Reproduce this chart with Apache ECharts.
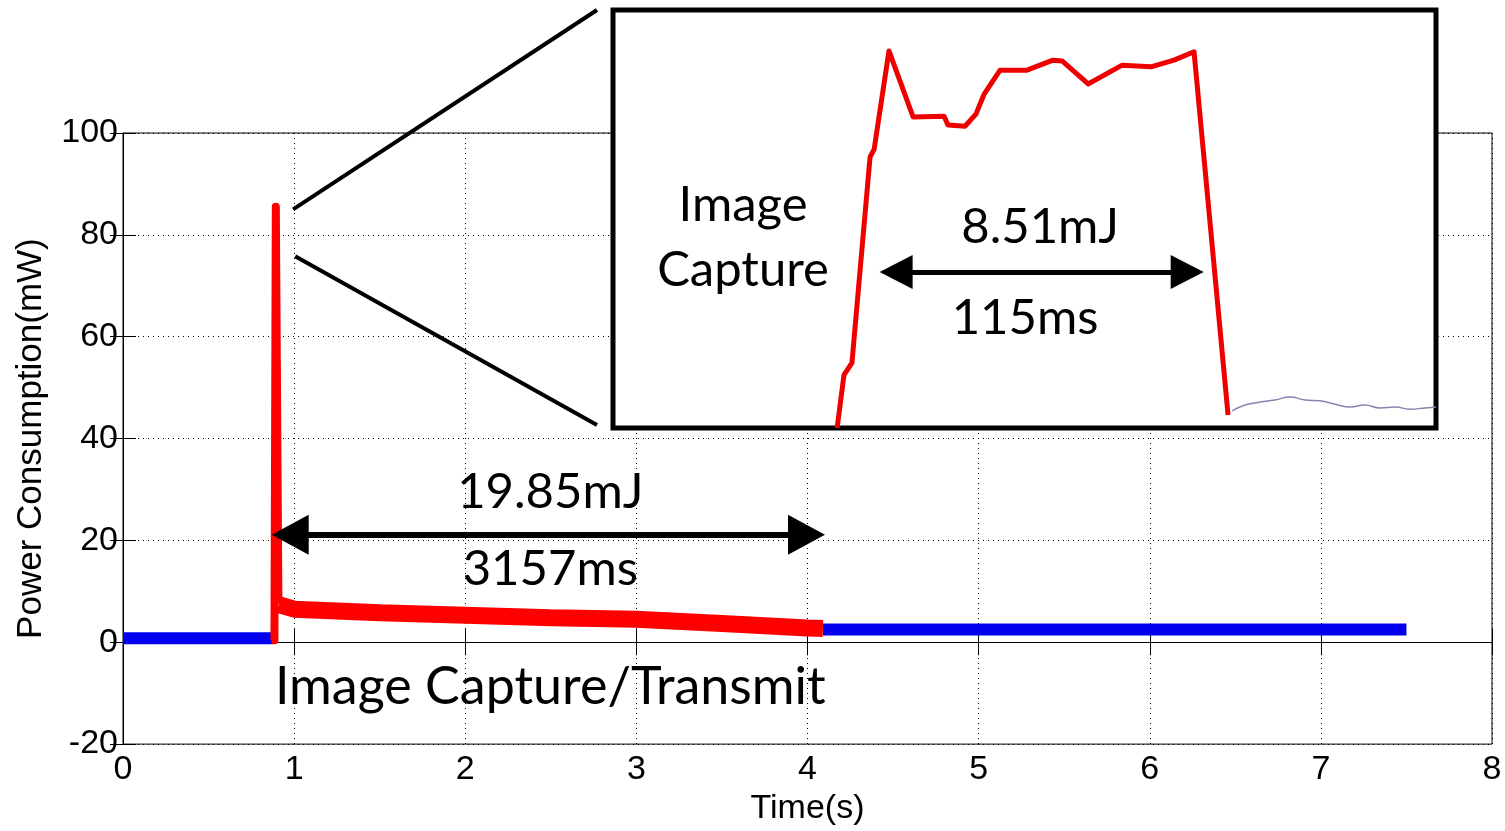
<!DOCTYPE html>
<html><head><meta charset="utf-8">
<script src="https://cdn.jsdelivr.net/npm/echarts/dist/echarts.min.js"></script>
<style>html,body{margin:0;padding:0;background:#fff}#c{width:1505px;height:831px}</style>
</head><body><div id="c"></div>
<script>
// ---- data (time in s, power in mW) ----
const idleBefore = [[0,0.8],[0.3,0.8],[0.6,0.8],[0.87,0.8]];
const captureSpike = [[0.87,0.4],[0.885,0.4],[0.893,85.5],[0.902,85.5],[0.908,9],[0.915,7.6]];
const transmit = [[0.91,7.4],[1.0,6.5],[1.5,5.8],[2.0,5.3],[2.5,4.8],[3.0,4.5],[3.5,3.7],[4.0,2.8],[4.09,2.7]];
const idleAfter = [[4.09,2.5],[5,2.5],[6,2.5],[7,2.5],[7.5,2.5]];
// ---- inset (zoom of capture spike): time in ms within window, relative power scale ----
const insetCapture = [[81.7,0],[84.2,12.7],[87.1,15.6],[93.7,64.8],[95.2,66.7],[100.6,90.2],[109.4,74.4],[120.7,74.6],[122.1,72.5],[128.3,72.2],[132.3,75.1],[135.3,79.9],[141.1,85.6],[150.9,85.6],[160.4,88.0],[163.7,87.8],[173.2,82.3],[185.6,86.8],[196.1,86.4],[204.5,88.0],[211.8,90.0],[224.2,3.1]];
const insetIdle = [[225.7,4.1],[230.4,5.5],[235.9,6.2],[241.3,6.7],[246.8,7.4],[252.3,6.7],[257.7,6.5],[263.2,5.7],[268.7,5.0],[274.1,5.5],[279.6,4.8],[285.1,5.0],[290.6,4.5],[296.0,4.8],[300,5.0]];
// ---- annotations ----
const mainArrow = [[0.977,21.1],[3.994,21.1]];
const mainNotes = [{t:'19.85mJ',c:[2.497,29.5],s:49},{t:'3157ms',c:[2.497,14.3],s:49},{t:'Image Capture/Transmit',c:[2.497,-8.8],s:52}];
const insetArrow = [[103.2,37.3],[209.3,37.3]];
const insetNotes = [{t:'Image',c:[47.4,53.3],s:49},{t:'Capture',c:[47.4,37.8],s:49},{t:'8.51mJ',c:[155.7,48.1],s:49},{t:'115ms',c:[150.2,26.3],s:49}];
const zoomFrom = [[0.994,85.0],[1.006,75.8]];

const AX = 'Liberation Sans, Arial, sans-serif';
const NOTE = 'Lato, "Open Sans", sans-serif';
const chart = echarts.init(document.getElementById('c'), null, {renderer:'canvas'});

function notePoints(list, z){
  return {
    z:z, symbol:'rect', symbolSize:1, itemStyle:{color:'rgba(0,0,0,0)'}, silent:true,
    label:{show:true, position:'inside', formatter:'{b}', color:'#000', fontFamily:NOTE, fontSize:49},
    data:list.map(n => ({coord:n.c, name:n.t, label:{fontSize:n.s}}))
  };
}
function arrowLine(pts, w, size, z){
  return {z:z, silent:true, symbol:['triangle','triangle'], symbolSize:size,
    lineStyle:{color:'#000', width:w, type:'solid'}, itemStyle:{color:'#000'},
    label:{show:false}, emphasis:{disabled:true},
    data:[[{coord:pts[0]},{coord:pts[1]}]]};
}

chart.setOption({
  animation:false,
  backgroundColor:'#fff',
  grid:[
    {left:123, right:13, top:133, bottom:83, show:true, borderColor:'#000', borderWidth:1, backgroundColor:'rgba(0,0,0,0)'},
    {left:613, top:10, width:823, height:418, show:true, borderColor:'#000', borderWidth:5, backgroundColor:'#fff', z:10}
  ],
  xAxis:[
    {gridIndex:0, type:'value', min:0, max:8, interval:1,
      axisLine:{show:true, lineStyle:{color:'#000', width:1}},
      axisTick:{inside:true, length:13, lineStyle:{color:'#000'}},
      axisLabel:{color:'#000', fontSize:34, fontFamily:AX, margin:9},
      splitLine:{show:true, lineStyle:{color:'#000', width:1, type:[1,4]}},
      name:'Time(s)', nameLocation:'middle', nameGap:44,
      nameTextStyle:{color:'#000', fontSize:34, fontFamily:AX}},
    {gridIndex:0, type:'value', min:0, max:8, interval:1, position:'top',
      axisLine:{show:false}, axisTick:{inside:true, length:13, lineStyle:{color:'#000'}},
      axisLabel:{show:false}, splitLine:{show:false}},
    {gridIndex:1, type:'value', min:0, max:300, show:false}
  ],
  yAxis:[
    {gridIndex:0, type:'value', min:-20, max:100, interval:20,
      axisLine:{show:true, lineStyle:{color:'#000', width:1}},
      axisTick:{inside:true, length:13, lineStyle:{color:'#000'}},
      axisLabel:{color:'#000', fontSize:34, fontFamily:AX, margin:5},
      splitLine:{show:true, lineStyle:{color:'#000', width:1, type:[1,4]}},
      name:'Power Consumption(mW)', nameLocation:'middle', nameGap:74,
      nameTextStyle:{color:'#000', fontSize:35, fontFamily:AX}},
    {gridIndex:0, type:'value', min:-20, max:100, interval:20, position:'right',
      axisLine:{show:false}, axisTick:{inside:true, length:13, lineStyle:{color:'#000'}},
      axisLabel:{show:false}, splitLine:{show:false}},
    {gridIndex:1, type:'value', min:0, max:100, show:false}
  ],
  series:[
    {type:'line', xAxisIndex:0, yAxisIndex:0, data:idleBefore, symbol:'none',
      lineStyle:{color:'#0000ee', width:12}},
    {type:'line', xAxisIndex:0, yAxisIndex:0, data:idleAfter, symbol:'none',
      lineStyle:{color:'#0000ee', width:12}},
    {type:'line', xAxisIndex:0, yAxisIndex:0, data:transmit, symbol:'none',
      lineStyle:{color:'#ff0000', width:17},
      markPoint:notePoints(mainNotes, 5),
      markLine:arrowLine(mainArrow, 6, [40,37], 5)},
    {type:'line', xAxisIndex:0, yAxisIndex:0, data:captureSpike, symbol:'none',
      lineStyle:{color:'#ff0000', width:8, join:'round'}},
    {type:'line', xAxisIndex:2, yAxisIndex:2, data:insetCapture, symbol:'none', z:12,
      lineStyle:{color:'#ee0000', width:5, join:'round'},
      markPoint:notePoints(insetNotes, 15),
      markLine:arrowLine(insetArrow, 5, [34,33], 15)},
    {type:'line', xAxisIndex:2, yAxisIndex:2, data:insetIdle, symbol:'none', z:12, smooth:true,
      lineStyle:{color:'#8585b0', width:1.5}}
  ]
});

// connector lines from the spike to the inset box
const p0 = chart.convertToPixel({xAxisIndex:0, yAxisIndex:0}, zoomFrom[0]);
const p1 = chart.convertToPixel({xAxisIndex:0, yAxisIndex:0}, zoomFrom[1]);
const c0 = chart.convertToPixel({xAxisIndex:2, yAxisIndex:2}, [0,100]);
const c1 = chart.convertToPixel({xAxisIndex:2, yAxisIndex:2}, [0,0]);
chart.setOption({graphic:[
  {type:'line', z:20, shape:{x1:p0[0], y1:p0[1], x2:c0[0]-16, y2:c0[1]}, style:{stroke:'#000', lineWidth:4}},
  {type:'line', z:20, shape:{x1:p1[0], y1:p1[1], x2:c1[0]-16, y2:c1[1]-3}, style:{stroke:'#000', lineWidth:4}}
]});
</script></body></html>
